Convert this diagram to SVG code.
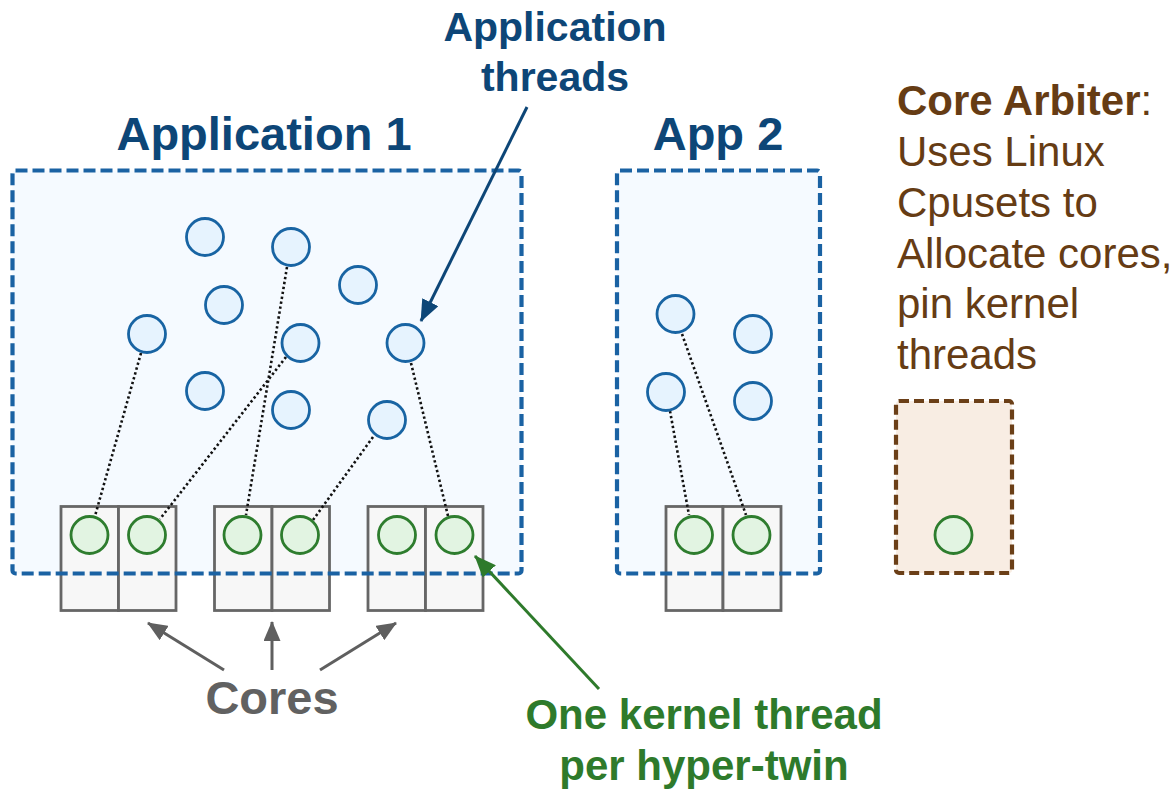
<svg xmlns="http://www.w3.org/2000/svg" width="1176" height="791" viewBox="0 0 1176 791">
<defs>
<style>
text{font-family:"Liberation Sans",Arial,Helvetica,sans-serif}
.appfill{fill:#f5faff;stroke:none}
.appbox{fill:none;stroke:#1a62a3;stroke-width:4.2;stroke-dasharray:12 5;stroke-linejoin:round}
.core{fill:#f7f7f7;stroke:#666;stroke-width:2.8}
.ut{fill:#e6f3fe;stroke:#1864a3;stroke-width:2.8}
.kt{fill:#e2f4e2;stroke:#2e7d2e;stroke-width:2.8}
.dot{fill:none;stroke:#111;stroke-width:2.6;stroke-dasharray:2.4 2.6}
.title{font-weight:bold;font-size:47px;fill:#0d4677}
</style>
<marker id="hb" markerUnits="userSpaceOnUse" viewBox="0 0 22 18" markerWidth="22" markerHeight="18" refX="21" refY="9" orient="auto"><path d="M0,0 L22,9 L0,18 z" fill="#0d4677"/></marker>
<marker id="hg" markerUnits="userSpaceOnUse" viewBox="0 0 22 18" markerWidth="22" markerHeight="18" refX="21" refY="9" orient="auto"><path d="M0,0 L22,9 L0,18 z" fill="#2e7a2b"/></marker>
<marker id="hk" markerUnits="userSpaceOnUse" viewBox="0 0 20 17" markerWidth="20" markerHeight="17" refX="19" refY="8.5" orient="auto"><path d="M0,0 L20,8.5 L0,17 z" fill="#5f5f5f"/></marker>
</defs>
<rect width="1176" height="791" fill="#fff"/>

<g id="app1">
<rect class="appfill" x="12.5" y="170.5" width="509" height="403" rx="3"/>
<text class="title" x="264" y="150" text-anchor="middle">Application 1</text>
</g>
<g id="app2">
<rect class="appfill" x="617" y="170.5" width="203" height="403" rx="3"/>
<text class="title" x="718" y="150" text-anchor="middle">App 2</text>
</g>

<g id="cores">
<rect class="core" x="61" y="506.5" width="57.5" height="104"/>
<rect class="core" x="118.5" y="506.5" width="57.5" height="104"/>
<rect class="core" x="214.5" y="506.5" width="57.5" height="104"/>
<rect class="core" x="272" y="506.5" width="57.5" height="104"/>
<rect class="core" x="368" y="506.5" width="57.5" height="104"/>
<rect class="core" x="425.5" y="506.5" width="57.5" height="104"/>
<rect class="core" x="666" y="506.5" width="57" height="104"/>
<rect class="core" x="723" y="506.5" width="58" height="104"/>
</g>

<g id="app-borders">
<rect class="appbox" x="12.5" y="170.5" width="509" height="403" rx="3"/>
<rect class="appbox" x="617" y="170.5" width="203" height="403" rx="3"/>
</g>

<g id="core-arbiter">
<rect x="896" y="401" width="116" height="172" rx="3" fill="#f8ede3" stroke="#6b3f17" stroke-width="4.2" stroke-dasharray="10 5"/>
<circle class="kt" cx="953.5" cy="535" r="18.5"/>
<text x="897" y="115" font-size="42" fill="#663c14"><tspan font-weight="bold">Core Arbiter</tspan>:</text>
<text x="897" y="166" font-size="42" fill="#663c14">Uses Linux</text>
<text x="897" y="217" font-size="42" fill="#663c14">Cpusets to</text>
<text x="897" y="268" font-size="42" fill="#663c14">Allocate cores,</text>
<text x="897" y="318" font-size="42" fill="#663c14">pin kernel</text>
<text x="897" y="369" font-size="42" fill="#663c14">threads</text>
</g>

<g id="connectors">
<line class="dot" x1="141" y1="353" x2="95" y2="516"/>
<line class="dot" x1="286" y1="357" x2="160" y2="519"/>
<line class="dot" x1="287" y1="267" x2="246" y2="515"/>
<line class="dot" x1="373" y1="437" x2="313" y2="520"/>
<line class="dot" x1="411" y1="363" x2="448" y2="516"/>
<line class="dot" x1="682" y1="334" x2="746" y2="515"/>
<line class="dot" x1="670" y1="411" x2="689" y2="515"/>
<line x1="527" y1="107" x2="421" y2="321" stroke="#0d4677" stroke-width="3" marker-end="url(#hb)"/>
<line x1="599" y1="689" x2="475" y2="556" stroke="#2e7a2b" stroke-width="3" marker-end="url(#hg)"/>
<line x1="224" y1="670" x2="148" y2="623" stroke="#5f5f5f" stroke-width="3" marker-end="url(#hk)"/>
<line x1="272" y1="670" x2="272" y2="622" stroke="#5f5f5f" stroke-width="3" marker-end="url(#hk)"/>
<line x1="320" y1="670" x2="396" y2="623" stroke="#5f5f5f" stroke-width="3" marker-end="url(#hk)"/>
</g>

<g id="app-threads">
<circle class="ut" cx="205" cy="237" r="18.5"/>
<circle class="ut" cx="291" cy="247" r="18.5"/>
<circle class="ut" cx="224" cy="305" r="18.5"/>
<circle class="ut" cx="358" cy="285" r="18.5"/>
<circle class="ut" cx="147" cy="334" r="18.5"/>
<circle class="ut" cx="300.5" cy="343" r="18.5"/>
<circle class="ut" cx="405.5" cy="343" r="18.5"/>
<circle class="ut" cx="205" cy="391" r="18.5"/>
<circle class="ut" cx="291" cy="410" r="18.5"/>
<circle class="ut" cx="387" cy="420" r="18.5"/>
<circle class="ut" cx="675.5" cy="314" r="18.5"/>
<circle class="ut" cx="753" cy="334" r="18.5"/>
<circle class="ut" cx="666" cy="392" r="18.5"/>
<circle class="ut" cx="753" cy="401" r="18.5"/>
</g>

<g id="kernel-threads">
<circle class="kt" cx="89.5" cy="535" r="18.5"/>
<circle class="kt" cx="147" cy="535" r="18.5"/>
<circle class="kt" cx="242.5" cy="535" r="18.5"/>
<circle class="kt" cx="300" cy="535" r="18.5"/>
<circle class="kt" cx="397" cy="535" r="18.5"/>
<circle class="kt" cx="454.5" cy="535" r="18.5"/>
<circle class="kt" cx="694" cy="535" r="18.5"/>
<circle class="kt" cx="751.5" cy="535" r="18.5"/>
</g>

<g id="label-app-threads">
<text x="555" y="41" font-size="41" font-weight="bold" fill="#0d4677" text-anchor="middle">Application</text>
<text x="555" y="91" font-size="41" font-weight="bold" fill="#0d4677" text-anchor="middle">threads</text>
</g>
<g id="label-cores">
<text x="272" y="714" font-size="47" font-weight="bold" fill="#616161" text-anchor="middle">Cores</text>
</g>
<g id="label-kernel">
<text x="704" y="729" font-size="42" font-weight="bold" fill="#2e7a2b" text-anchor="middle">One kernel thread</text>
<text x="704" y="780" font-size="42" font-weight="bold" fill="#2e7a2b" text-anchor="middle">per hyper-twin</text>
</g>
</svg>
